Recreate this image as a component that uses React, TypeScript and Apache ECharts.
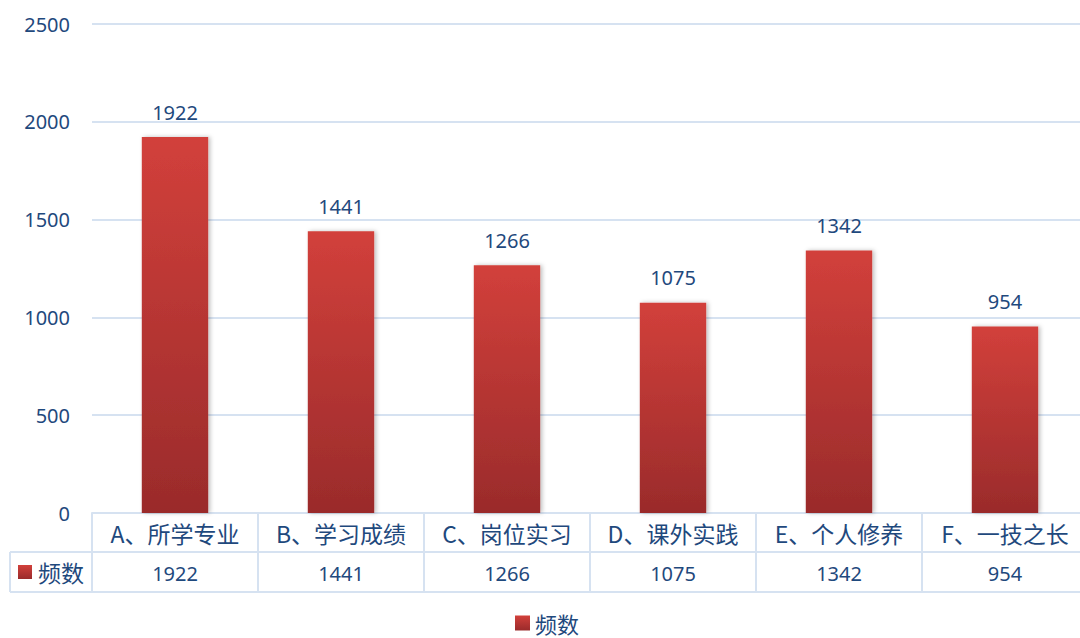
import React, { useEffect, useRef } from "react";
import * as echarts from "echarts";

const categories = ["A、所学专业", "B、学习成绩", "C、岗位实习", "D、课外实践", "E、个人修养", "F、一技之长"];
const seriesName = "频数";
const values = [1922, 1441, 1266, 1075, 1342, 954];
const yTicks = [0, 500, 1000, 1500, 2000, 2500];

const TEXT = "#1F497D";
const LINE = "#D6E2F1";
const barGradient = () =>
  new echarts.graphic.LinearGradient(0, 0, 0, 1, [
    { offset: 0, color: "#D2403B" },
    { offset: 1, color: "#9A2B2B" },
  ]);

export default function App() {
  const ref = useRef<HTMLDivElement>(null);
  useEffect(() => {
    const chart = echarts.init(ref.current!, undefined, { renderer: "svg" });
    const numFont = "'Noto Sans', 'Noto Sans CJK SC', sans-serif";
    const cjkFont = "'Noto Sans CJK SC', 'Noto Sans', sans-serif";
    chart.setOption({
      animation: false,
      backgroundColor: "#ffffff",
      grid: { left: 92, right: 0, top: 24, bottom: 125 },
      legend: {
        show: true,
        data: [seriesName],
        top: 607,
        left: 510,
        icon: "rect",
        itemWidth: 15,
        itemHeight: 15,
        itemGap: 4,
        textStyle: { fontSize: 22, color: TEXT, fontFamily: cjkFont },
      },
      xAxis: [
        {
          type: "category",
          data: categories,
          position: "bottom",
          axisLine: { show: true, lineStyle: { color: LINE, width: 2 } },
          axisTick: { show: true, length: 79, lineStyle: { color: LINE, width: 2 } },
          axisLabel: {
            interval: 0,
            margin: 20,
            verticalAlign: "middle",
            fontSize: 23,
            color: TEXT,
            fontFamily: cjkFont,
          },
        },
        {
          type: "category",
          data: values.map((v) => String(v)),
          position: "bottom",
          offset: 0,
          axisLine: { show: false },
          axisTick: { show: false },
          axisLabel: {
            interval: 0,
            margin: 60,
            verticalAlign: "middle",
            fontSize: 20,
            color: TEXT,
            fontFamily: numFont,
          },
        },
      ],
      yAxis: {
        type: "value",
        min: 0,
        max: 2500,
        interval: 500,
        axisLine: { show: false },
        axisTick: { show: false },
        axisLabel: {
          margin: 22,
          fontSize: 20,
          color: TEXT,
          fontFamily: numFont,
          formatter: (v: number) => (yTicks.includes(v) ? String(v) : ""),
        },
        splitLine: { show: true, lineStyle: { color: LINE, width: 2 } },
      },
      series: [
        {
          name: seriesName,
          type: "bar",
          xAxisIndex: 0,
          data: values,
          barWidth: "40%",
          itemStyle: {
            color: barGradient(),
            shadowBlur: 4,
            shadowColor: "rgba(0,0,0,0.25)",
            shadowOffsetX: 2,
            shadowOffsetY: 0,
          },
          label: {
            show: true,
            position: "top",
            distance: 15,
            fontSize: 20,
            color: TEXT,
            fontFamily: numFont,
          },
        },
      ],
      graphic: [
        { type: "line", shape: { x1: 10, y1: 552, x2: 1088, y2: 552 }, style: { stroke: LINE, lineWidth: 2 } },
        { type: "line", shape: { x1: 10, y1: 592, x2: 1088, y2: 592 }, style: { stroke: LINE, lineWidth: 2 } },
        { type: "line", shape: { x1: 10, y1: 552, x2: 10, y2: 592 }, style: { stroke: LINE, lineWidth: 2 } },
        {
          type: "rect",
          shape: { x: 18, y: 565, width: 14, height: 14 },
          style: { fill: barGradient() },
        },
        {
          type: "text",
          x: 38,
          y: 572,
          style: {
            text: seriesName,
            fontSize: 23,
            fill: TEXT,
            fontFamily: cjkFont,
            verticalAlign: "middle",
            align: "left",
          },
        },
      ],
    });
    return () => chart.dispose();
  }, []);
  return (
    <div
      ref={ref}
      style={{ position: "fixed", left: 0, top: 0, width: 1088, height: 638, background: "#fff" }}
    />
  );
}
